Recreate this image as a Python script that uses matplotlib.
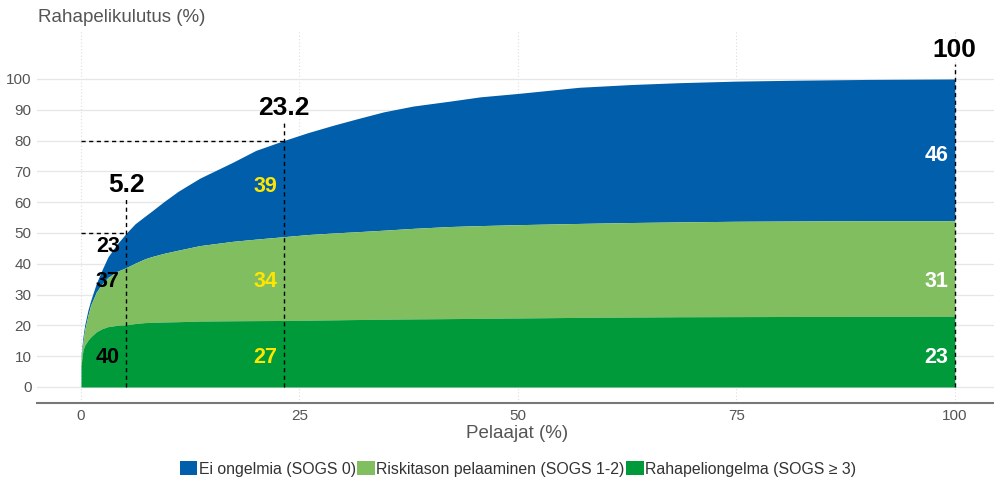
import numpy as np
import matplotlib.pyplot as plt
from matplotlib.patches import Patch

plt.rcParams['font.family'] = ['Liberation Sans', 'DejaVu Sans']

# Kumulatiivinen rahapelikulutus pelaajaosuuden mukaan (%)
pelaajat = [0, 0.04, 0.23, 0.42, 0.8, 1.1, 1.75, 2.4, 3.1, 4.1, 5.2, 6.2, 7.3,
            8.05, 9.5, 11.1, 13.6, 17.4, 20, 23.2, 26, 28.9, 31.5, 34.6, 38,
            42.2, 45.7, 50, 57, 63, 68.5, 75, 82, 90, 100]
kaikki = [10, 11.3, 16.3, 20, 25, 28, 33.6, 38, 42.3, 46.3, 50, 53, 55.4,
          57, 60.2, 63.5, 67.8, 73, 76.8, 80, 82.6, 85, 87, 89.3, 91.2,
          92.8, 94.2, 95.3, 97.3, 98.2, 98.8, 99.3, 99.6, 99.85, 100]
riski_ja_ongelma = [9, 10.5, 14.5, 18.5, 23.3, 26.5, 30.8, 33.5, 35.6, 37.5, 38.8, 40.2, 41.6,
                    42.3, 43.4, 44.4, 45.9, 47.3, 48, 48.8, 49.5, 50, 50.4, 50.9, 51.5,
                    52.1, 52.4, 52.7, 53.1, 53.4, 53.6, 53.8, 53.9, 54, 54]
ongelma = [7, 7.8, 12, 13.5, 15.2, 16.2, 17.9, 18.9, 19.6, 20, 20.2, 20.6, 20.9,
           21, 21.1, 21.2, 21.4, 21.5, 21.55, 21.6, 21.7, 21.8, 21.9, 22, 22.1,
           22.2, 22.3, 22.4, 22.6, 22.7, 22.8, 22.85, 22.9, 22.95, 23]

# Merkityt kohdat ja ryhmien osuudet niissä
kohdat = [5.2, 23.2, 100]
kohta_kulutus = [50, 80, 100]
osuus_ongelma = [40, 27, 23]
osuus_riski = [37, 34, 31]
osuus_ei = [23, 39, 46]

ryhmat = ['Ei ongelmia (SOGS 0)', 'Riskitason pelaaminen (SOGS 1-2)',
          'Rahapeliongelma (SOGS ≥ 3)']
varit = ['#005EAB', '#80BE5F', '#009A3A']

fig = plt.figure(figsize=(9.95, 4.83), dpi=100)
ax = fig.add_axes([0.0372, 0.1656, 0.9628, 0.7723])

ax.fill_between(pelaajat, riski_ja_ongelma, kaikki, color=varit[0], lw=0)
ax.fill_between(pelaajat, ongelma, riski_ja_ongelma, color=varit[1], lw=0)
ax.fill_between(pelaajat, 0, ongelma, color=varit[2], lw=0)

ax.set_xlim(-5.03, 104.6)
ax.set_ylim(-5.2, 115.9)
ax.set_yticks(np.arange(0, 101, 10))
ax.set_xticks([0, 25, 50, 75, 100])
ax.tick_params(length=0, labelsize=11, labelcolor='#555555', pad=4)
ax.grid(axis='y', color='#e6e6e6', lw=0.9)
ax.grid(axis='x', color='#dddddd', lw=0.8, ls=(0, (1, 2)))
ax.set_axisbelow(True)
for s in ['left', 'right', 'top']:
    ax.spines[s].set_visible(False)
ax.spines['bottom'].set_color('#777777')
ax.spines['bottom'].set_linewidth(1.5)
ax.spines['bottom'].set_position(('data', -5.2))

# katkoviivat ja kohtien otsikot
viiva_yla = [61, 86, 105]
tekstivari = ['black', '#FFE500', 'white']
yla_y = [45.5, 65, 75]
for i, x in enumerate(kohdat):
    ax.plot([x, x], [0, viiva_yla[i]], color='black', lw=1, ls=(0, (3, 2.5)), zorder=4)
    if x < 100:
        ax.plot([0, x], [kohta_kulutus[i]] * 2, color='black', lw=1,
                ls=(0, (3, 2.5)), zorder=4)
    etiketti = f'{x:g}'
    ax.text(x, viiva_yla[i] + 0.6, etiketti, ha='center', va='bottom',
            fontsize=19, fontweight='bold', color='black')
    for y, v in zip([9.7, 34.4, yla_y[i]], [osuus_ongelma[i], osuus_riski[i], osuus_ei[i]]):
        ax.text(x - 0.75, y, str(v), ha='right', va='center', fontsize=15.5,
                fontweight='bold', color=tekstivari[i], zorder=5)

fig.text(38 / 995, 1 - 17 / 483, 'Rahapelikulutus (%)', ha='left', va='center',
         fontsize=13.5, color='#555555')
fig.text(517 / 995, 1 - 434 / 483, 'Pelaajat (%)', ha='center', va='center',
         fontsize=13.5, color='#555555')

kahvat = [Patch(facecolor=c, edgecolor='none') for c in varit]
fig.legend(kahvat, ryhmat, loc='center', bbox_to_anchor=(518 / 995, 1 - 469 / 483),
           ncol=3, frameon=False, fontsize=11.4, handlelength=1.1, handleheight=1.0,
           handletextpad=0.1, columnspacing=0.1, labelcolor='#333333',
           borderpad=0, borderaxespad=0)

fig.savefig('out.png', dpi=100)
